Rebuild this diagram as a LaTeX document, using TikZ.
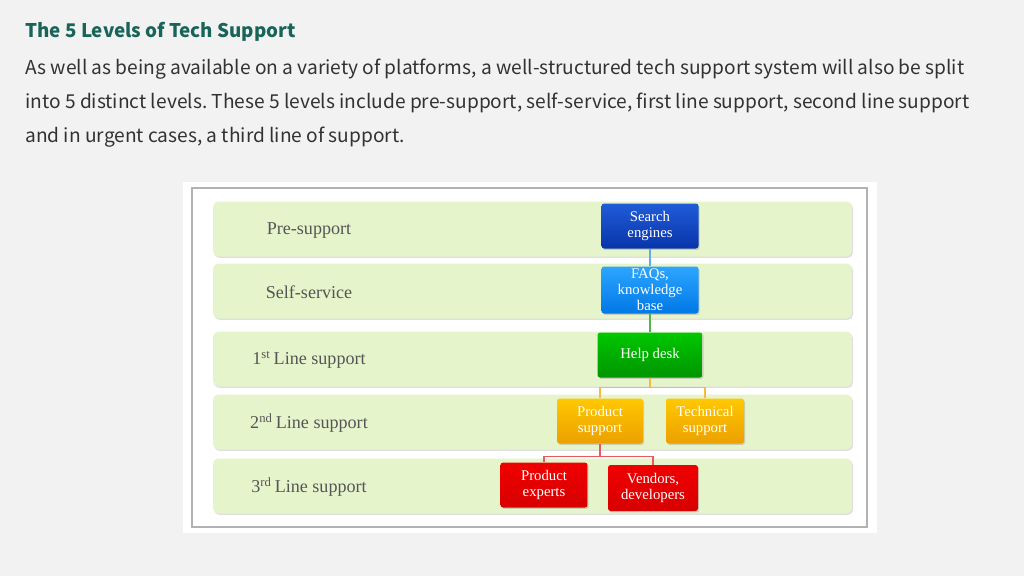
\documentclass[tikz,border=0pt]{standalone}
\usepackage{fontspec}
\setmainfont{Liberation Serif}
\newfontfamily\headfont{Noto Sans CJK JP}
\usetikzlibrary{shadows}
\frenchspacing
\definecolor{pagegray}{RGB}{242,242,242}
\definecolor{headteal}{RGB}{24,100,88}
\definecolor{bodygray}{RGB}{50,50,50}
\definecolor{bandgreen}{RGB}{230,244,204}
\definecolor{lblgray}{RGB}{85,85,85}
\begin{document}
\begin{tikzpicture}[
      x=0.02cm, y=-0.02cm,
      every node/.style={inner sep=0pt},
      head/.style={anchor=base west, font=\headfont\fontsize{10.7}{12}\selectfont\bfseries, text=headteal},
      body/.style={anchor=base west, font=\headfont\fontsize{10.9}{12}\selectfont, text=bodygray},
      band/.style={fill=bandgreen, rounded corners=3pt, minimum width=12.78cm, minimum height=1.1cm,
        drop shadow={opacity=0.25, shadow xshift=0.6pt, shadow yshift=-0.8pt}},
      level/.style={font=\fontsize{10.3}{12}\selectfont, text=lblgray},
      tier/.style={rounded corners=1.5pt, minimum height=0.9cm, text=white, align=center,
        font=\fontsize{8.4}{9.2}\selectfont,
        drop shadow={opacity=0.3, shadow xshift=0.6pt, shadow yshift=-0.8pt}},
      link/.style={line width=0.6pt},
    ]
    \fill[pagegray] (0,0) rectangle (1024,576);
    \useasboundingbox (0,0) rectangle (1024,576);
    % Heading and intro
    \node[head] (title) at (25,37) {The 5 Levels of Tech Support};
    \node[body] (line1) at (25,74) {As well as being available on a variety of platforms, a well-structured tech support system will also be split};
    \node[body] (line2) at (25,108) {into 5 distinct levels. These 5 levels include pre-support, self-service, first line support, second line support};
    \node[body] (line3) at (25,142) {and in urgent cases, a third line of support.};
    % Panel
    \fill[white] (183,182) rectangle (877,533);
    \draw[gray!60, line width=0.8pt] (192,188) rectangle (867,527);
    % Level bands
    \foreach \lv/\yc/\txt in {pre/230/Pre-support, self/292/Self-service,
        first/360/1\textsuperscript{st}\,Line support,
        second/423/2\textsuperscript{nd}\,Line support,
        third/487/3\textsuperscript{rd}\,Line support} {
      \node[band] (\lv) at (532.5,\yc-1) {};
      \node[level] (\lv-lbl) at (309,\yc) {\txt};
    }
    % Support tiers
    \node[tier, minimum width=1.94cm, top color={rgb,255:red,32;green,92;blue,215}, bottom color={rgb,255:red,8;green,52;blue,170}]
      (search) at (650,226) {Search\\engines};
    \node[tier, minimum width=1.94cm, minimum height=0.94cm, top color={rgb,255:red,45;green,165;blue,255}, bottom color={rgb,255:red,0;green,120;blue,230}]
      (faqs) at (650,290) {FAQs,\\knowledge\\base};
    \node[tier, minimum width=2.1cm, top color={rgb,255:red,0;green,200;blue,0}, bottom color={rgb,255:red,0;green,148;blue,0}]
      (help) at (650,355) {Help desk};
    \node[tier, minimum width=1.72cm, top color={rgb,255:red,255;green,200;blue,0}, bottom color={rgb,255:red,236;green,160;blue,0}]
      (prod) at (600,421) {Product\\support};
    \node[tier, minimum width=1.56cm, top color={rgb,255:red,255;green,200;blue,0}, bottom color={rgb,255:red,236;green,160;blue,0}]
      (tech) at (705,421) {Technical\\support};
    \node[tier, minimum width=1.74cm, top color={rgb,255:red,240;green,0;blue,0}, bottom color={rgb,255:red,215;green,0;blue,0}]
      (experts) at (544,485) {Product\\experts};
    \node[tier, minimum width=1.8cm, minimum height=0.92cm, top color={rgb,255:red,240;green,0;blue,0}, bottom color={rgb,255:red,215;green,0;blue,0}]
      (vendors) at (653,488) {Vendors,\\developers};
    % Connectors
    \draw[link, draw={rgb,255:red,100;green,170;blue,235}] (search) -- (faqs);
    \draw[link, draw={rgb,255:red,80;green,180;blue,80}] (faqs) -- (help);
    \draw[link, draw={rgb,255:red,245;green,185;blue,70}] (help.south) -- ++(0,10) -| (prod);
    \draw[link, draw={rgb,255:red,245;green,185;blue,70}] (help.south) -- ++(0,10) -| (tech);
    \draw[link, draw={rgb,255:red,235;green,90;blue,90}] (prod.south) -- ++(0,13) -| (experts);
    \draw[link, draw={rgb,255:red,235;green,90;blue,90}] (prod.south) -- ++(0,13) -| (vendors);
\end{tikzpicture}
\end{document}
